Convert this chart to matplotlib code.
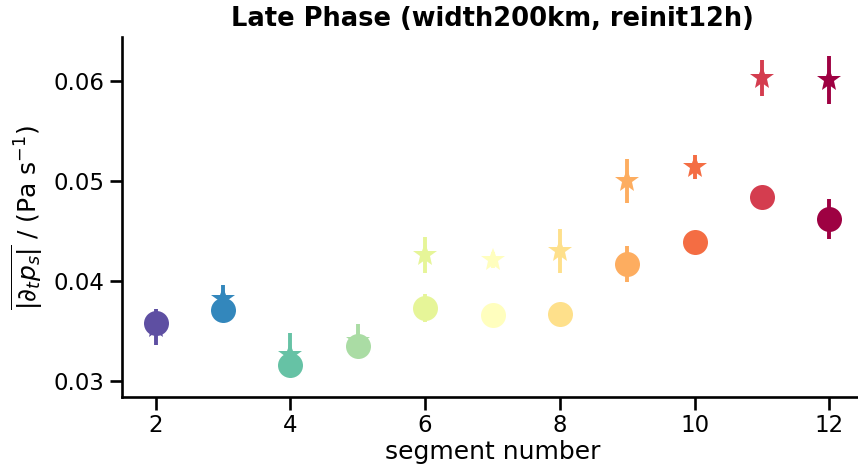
import matplotlib
matplotlib.use('Agg')
import matplotlib.pyplot as plt
import numpy as np

segments = [2, 3, 4, 5, 6, 7, 8, 9, 10, 11, 12]
# circles (first set) and stars (second set), mean and error
circ_val = [0.0358, 0.0371, 0.0316, 0.0335, 0.0373, 0.0366, 0.0367, 0.0417, 0.0439, 0.0484, 0.0462]
circ_err = [0.0010, 0.0008, 0.0010, 0.0008, 0.0014, 0.0006, 0.0008, 0.0018, 0.0006, 0.0006, 0.0020]
star_val = [0.0354, 0.0382, 0.0326, 0.0340, 0.0426, 0.0421, 0.0430, 0.0500, 0.0514, 0.0603, 0.0601]
star_err = [0.0018, 0.0014, 0.0022, 0.0017, 0.0018, 0.0008, 0.0022, 0.0022, 0.0012, 0.0018, 0.0024]

title = 'Late Phase (width200km, reinit12h)'
xlabel = 'segment number'
ylabel = r'$\overline{|\partial_t p_s|}$ / (Pa s$^{-1}$)'

plt.rcParams['font.family'] = 'DejaVu Sans'
plt.rcParams['mathtext.fontset'] = 'dejavusans'

fig = plt.figure(figsize=(8.58, 4.72), dpi=100)
ax = fig.add_axes([122/858, 75/472, 741/858, 360/472])

cmap = plt.get_cmap('Spectral_r')
colors = [cmap(i / (len(segments) - 1)) for i in range(len(segments))]

for i, s in enumerate(segments):
    ax.errorbar(s, star_val[i], yerr=star_err[i], fmt='*', color=colors[i],
                ms=18, elinewidth=2.8, capsize=0, mew=0)
    ax.errorbar(s, circ_val[i], yerr=circ_err[i], fmt='o', color=colors[i],
                ms=18, elinewidth=2.8, capsize=0, mew=0)

ax.set_xlim(1.5, 12.5)
ax.set_ylim(0.0284, 0.0644)
ax.set_xticks([2, 4, 6, 8, 10, 12])
ax.set_yticks([0.03, 0.04, 0.05, 0.06])
ax.spines['top'].set_visible(False)
ax.spines['right'].set_visible(False)
for sp in ['left', 'bottom']:
    ax.spines[sp].set_linewidth(1.9)
ax.tick_params(axis='both', labelsize=16.5, length=9, width=1.9)
ax.set_xlabel(xlabel, fontsize=18, labelpad=2)
ax.set_ylabel(ylabel, fontsize=18, labelpad=6)
ax.set_title(title, fontsize=18.5, fontweight='bold', pad=8)

fig.savefig('out.png', dpi=100)
